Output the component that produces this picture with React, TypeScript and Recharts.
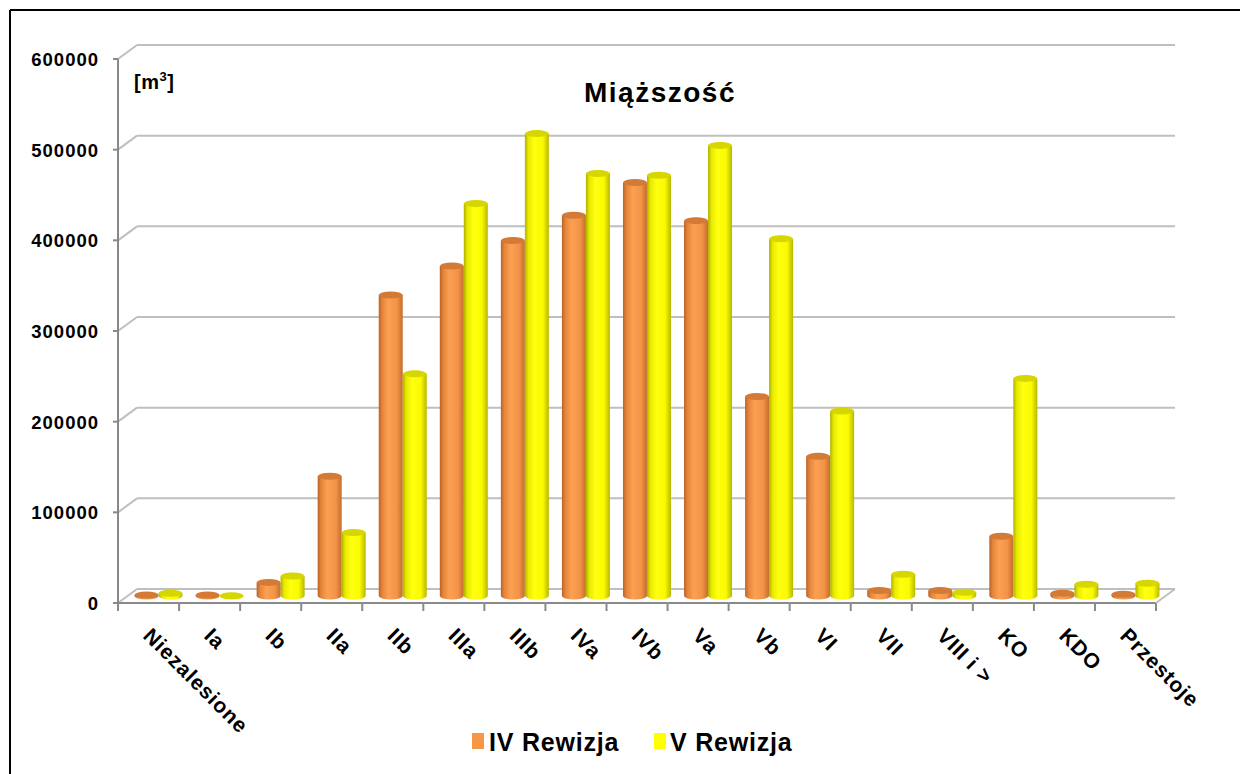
import React from 'react';
import { BarChart, Bar, XAxis, YAxis, CartesianGrid } from 'recharts';

const categories = ['Niezalesione', 'Ia', 'Ib', 'IIa', 'IIb', 'IIIa', 'IIIb', 'IVa', 'IVb', 'Va', 'Vb', 'VI', 'VII', 'VIII i >', 'KO', 'KDO', 'Przestoje'];
const rewizjaIV = [1000, 1000, 15000, 132000, 332000, 364000, 392000, 420000, 456000, 414000, 220000, 154000, 6000, 6000, 66000, 3000, 2000];
const rewizjaV = [3000, 300, 22000, 70000, 245000, 433000, 510000, 466000, 464000, 497000, 394000, 204000, 24000, 4000, 240000, 13000, 14000];
const yTicks = [0, 100000, 200000, 300000, 400000, 500000, 600000];
const seriesNames = ['IV Rewizja', 'V Rewizja'];
const chartTitle = 'Miąższość';

const data = categories.map((c, i) => ({ name: c, iv: rewizjaIV[i], v: rewizjaV[i] }));

// 3D projection offsets (half depth)
const DX = 9.5;
const DY = 7;
const BAND = 61;
const FONT = '"Liberation Sans", Arial, sans-serif';
const FRONT_X = 118;
const FLOOR_Y = 603;

const Cylinder = (props: any) => {
  const { x, y, width, height, gradId, topFill } = props;
  if (x == null || y == null) return null;
  const rx = width / 2;
  const ry = 3.5;
  const cx = x + rx;
  const bottom = y + Math.max(height, 0);
  return (
    <g>
      <path
        d={`M${x},${y} L${x},${bottom} A${rx},${ry} 0 0 0 ${x + width},${bottom} L${x + width},${y} Z`}
        fill={`url(#${gradId})`}
      />
      <ellipse cx={cx} cy={y} rx={rx} ry={ry} fill={topFill} />
    </g>
  );
};

const YTick = (props: any) => {
  const { y, payload, index } = props;
  const fy = y + DY;
  return (
    <g>
      {index === 0 && (
        <line x1={FRONT_X} y1={fy} x2={FRONT_X} y2={fy - 6 * 90.67} stroke="#898989" strokeWidth={2} />
      )}
      <line x1={FRONT_X - 5} y1={fy} x2={FRONT_X} y2={fy} stroke="#898989" strokeWidth={2} />
      <text x={99} y={fy + 7} textAnchor="end" fontFamily={FONT} fontWeight="bold" fontSize={18.5} letterSpacing={1} fill="#000">
        {payload.value}
      </text>
    </g>
  );
};

const XTick = (props: any) => {
  const { x, payload, index, visibleTicksCount } = props;
  const fx = x - DX;
  const isLast = index === visibleTicksCount - 1;
  const ax = fx - 6.5;
  const ay = 637;
  return (
    <g>
      <line x1={fx - BAND / 2} y1={FLOOR_Y} x2={fx - BAND / 2} y2={FLOOR_Y + 8} stroke="#898989" strokeWidth={2} />
      <line x1={fx - BAND / 2} y1={FLOOR_Y} x2={fx + BAND / 2} y2={FLOOR_Y} stroke="#898989" strokeWidth={2} />
      {isLast && (
        <g>
          <line x1={fx + BAND / 2} y1={FLOOR_Y} x2={fx + BAND / 2} y2={FLOOR_Y + 8} stroke="#898989" strokeWidth={2} />
          <line x1={fx + BAND / 2} y1={FLOOR_Y} x2={fx + BAND / 2 + 2 * DX} y2={FLOOR_Y - 2 * DY} stroke="#bfbfbf" strokeWidth={2} />
        </g>
      )}
      <text
        x={ax}
        y={ay}
        transform={`rotate(45 ${ax} ${ay})`}
        textAnchor="start"
        fontFamily={FONT}
        fontWeight="bold"
        fontSize={21}
        letterSpacing={0.9}
        fill="#000"
      >
        {payload.value}
      </text>
    </g>
  );
};

const GridLine = (p: any) => {
  const { x1, x2, y1 } = p;
  return (
    <g key={`g-${y1}`}>
      <line x1={x1 - DX} y1={y1 + DY} x2={x1 + DX} y2={y1 - DY} stroke="#bfbfbf" strokeWidth={2} />
      <line x1={x1 + DX} y1={y1 - DY} x2={x2 + DX} y2={y1 - DY} stroke="#bfbfbf" strokeWidth={2} />
    </g>
  );
};

export default function App() {
  return (
    <div style={{ position: 'absolute', left: 0, top: 0, width: 1240, height: 774, background: '#fff', overflow: 'hidden' }}>
      <BarChart
        width={1240}
        height={774}
        data={data}
        margin={{ top: 52, left: 97.5, right: 74.5, bottom: 148 }}
        barGap={0}
        barSize={24}
      >
        <defs>
          <linearGradient id="gOr" x1="0" y1="0" x2="1" y2="0">
            <stop offset="0%" stopColor="#bb6326" />
            <stop offset="15%" stopColor="#e5863b" />
            <stop offset="40%" stopColor="#fba052" />
            <stop offset="75%" stopColor="#f39448" />
            <stop offset="100%" stopColor="#c46d2d" />
          </linearGradient>
          <linearGradient id="gYe" x1="0" y1="0" x2="1" y2="0">
            <stop offset="0%" stopColor="#b0b000" />
            <stop offset="15%" stopColor="#eaea00" />
            <stop offset="40%" stopColor="#ffff10" />
            <stop offset="75%" stopColor="#fafa00" />
            <stop offset="100%" stopColor="#b8b800" />
          </linearGradient>
        </defs>
        <CartesianGrid vertical={false} horizontal={(p: any) => <GridLine {...p} />} />
        <XAxis
          dataKey="name"
          height={30}
          interval={0}
          tickLine={false}
          axisLine={false}
          tick={(p: any) => <XTick {...p} />}
        />
        <YAxis
          type="number"
          width={30}
          domain={[0, 600000]}
          ticks={yTicks}
          interval={0}
          tickLine={false}
          axisLine={false}
          tick={(p: any) => <YTick {...p} />}
        />
        <Bar
          dataKey="iv"
          name={seriesNames[0]}
          fill="#f79646"
          isAnimationActive={false}
          shape={(p: any) => <Cylinder {...p} gradId="gOr" topFill="#d37a36" />}
        />
        <Bar
          dataKey="v"
          name={seriesNames[1]}
          fill="#ffff00"
          isAnimationActive={false}
          shape={(p: any) => <Cylinder {...p} gradId="gYe" topFill="#d6d600" />}
        />
      </BarChart>
      <svg width={1240} height={774} style={{ position: 'absolute', left: 0, top: 0, pointerEvents: 'none' }}>
        <line x1={10} y1={10} x2={1240} y2={10} stroke="#000" strokeWidth={2} />
        <line x1={10} y1={10} x2={10} y2={774} stroke="#000" strokeWidth={2} />
        <text x={660} y={102} textAnchor="middle" fontFamily={FONT} fontWeight="bold" fontSize={28} letterSpacing={1.5} fill="#000">
          {chartTitle}
        </text>
        <text x={134} y={89} fontFamily={FONT} fontWeight="bold" fontSize={20} letterSpacing={0.5} fill="#000">
          [m<tspan fontSize={13} dy={-8}>3</tspan><tspan dy={8}>]</tspan>
        </text>
        <rect x={472} y={733} width={12} height={16} fill="#f79646" />
        <text x={489} y={751} fontFamily={FONT} fontWeight="bold" fontSize={25} letterSpacing={0.8} fill="#000">
          {seriesNames[0]}
        </text>
        <rect x={654} y={733} width={12} height={16} fill="#ffff00" />
        <text x={670} y={751} fontFamily={FONT} fontWeight="bold" fontSize={25} letterSpacing={0.8} fill="#000">
          {seriesNames[1]}
        </text>
      </svg>
    </div>
  );
}
